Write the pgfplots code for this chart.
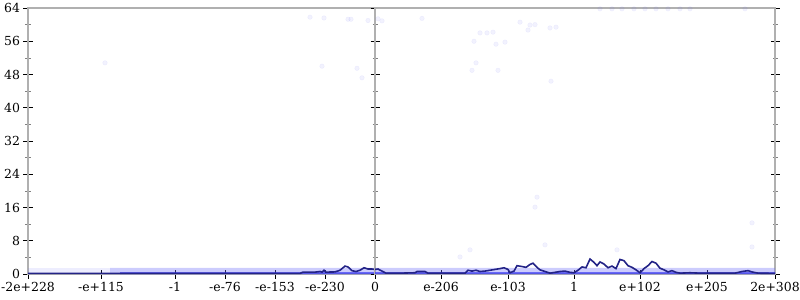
\documentclass[border=0pt]{standalone}
\usepackage{pgfplots}
\pgfplotsset{compat=1.18}
\usepackage{fontspec}
\setmainfont{DejaVu Serif}
\definecolor{axgray}{RGB}{176,176,176}
\definecolor{navy}{RGB}{35,35,135}
\definecolor{band}{RGB}{110,110,250}
\definecolor{strip}{RGB}{50,50,245}
\definecolor{dotc}{RGB}{110,110,240}
\pgfplotsset{
 base/.style={
  scale only axis, height=266bp, ymin=0, ymax=64,
  ytick={0,8,...,64}, minor ytick={4,12,...,60},
  axis line style={axgray, line width=1.4bp},
  tick align=center, major tick length=9bp, minor tick length=5bp,
  every tick/.style={black, line width=0.8bp},
  every minor tick/.style={gray, line width=0.6bp},
  tick label style={font=\fontsize{12.5}{14}\selectfont},
  /pgf/number format/assume math mode=true,
  xtick pos=bottom, xtick align=center,
  clip=true,
 },
 dots/.style={only marks, mark=*, mark size=2.3bp, color=dotc, mark options={draw=dotc, fill=dotc, opacity=0.09}},
 navyline/.style={navy, line width=1.6bp, mark=none},
}
\begin{document}
\begin{tikzpicture}
\begin{axis}[base, width=347bp, at={(0,0)}, anchor=south west,
  xmin=28, xmax=375, ytick pos=left,
  xtick={28,101,175,225,275,325},
  xticklabels={-2e+228,-e+115,-1,-e-76,-e-153,-e-230}]
\addplot[draw=none, fill=band, fill opacity=0.12] coordinates {(28,0)(28,1.4)(110,1.4)(110,0)} \closedcycle;
\addplot[draw=none, fill=band, fill opacity=0.35] coordinates {(110,0)(110,1.45)(375,1.45)(375,0)} \closedcycle;
\addplot[draw=none, fill=strip, fill opacity=0.65] coordinates {(120,0)(120,0.45)(375,0.45)(375,0)} \closedcycle;
\addplot[dots] coordinates {(310,61.8)(324,61.6)(348,61.3)(351,61.3)(368,61.0)(322,50.0)(357,49.5)(362,47.2)(105,50.8)};
\addplot[navyline] coordinates {(28,0.15)(300,0.15)(303,0.45)(315,0.45)(320,0.6)(322,0.45)(324,0.9)(326,0.45)(335,0.5)(340,0.9)(345,1.9)(348,1.7)(352,0.8)(356,0.6)(360,0.9)(364,1.5)(368,1.2)(372,1.2)(375,1.1)};
\end{axis}
\begin{axis}[base, width=400bp, at={(347bp,0)}, anchor=south west,
  xmin=375, xmax=775, ytick pos=both, yticklabels={},
  xtick={375,441,508,574,640,707,775},
  xticklabels={0,e-206,e-103,1,e+102,e+205,2e+308}]
\addplot[draw=none, fill=band, fill opacity=0.35] coordinates {(375,0)(375,1.45)(775,1.45)(775,0)} \closedcycle;
\addplot[draw=none, fill=strip, fill opacity=0.65] coordinates {(375,0)(375,0.45)(775,0.45)(775,0)} \closedcycle;
\addplot[dots] coordinates {(378,61.4)(382,60.9)(422,61.5)(487,58.0)(493,58.2)(474,56.0)(480,58.0)(505,55.8)(498,49.0)(472,49.0)(476,50.8)(520,60.6)(530,59.9)(528,58.7)(535,60.0)(550,59.2)(556,59.4)(551,46.4)(496,55.3)(545,7.0)(470,5.8)(460,4.1)(535,16.1)(537,18.5)(752,12.3)(752,6.5)(617,5.8)(600,63.8)(612,63.8)(622,63.8)(634,63.8)(645,63.8)(656,63.8)(668,63.8)(680,63.8)(690,63.8)(745,63.8)};
\addplot[navyline] coordinates {(375,1.1)(378,1.2)(382,0.7)(386,0.2)(400,0.2)(415,0.3)(417,0.6)(425,0.6)(428,0.2)(465,0.2)(468,0.9)(472,0.7)(476,0.9)(480,0.6)(485,0.7)(490,0.9)(495,1.1)(500,1.3)(504,1.5)(508,1.1)(510,0.3)(514,0.7)(517,2.0)(522,1.8)(526,1.6)(530,2.3)(533,2.6)(537,1.6)(540,1.0)(545,0.6)(550,0.2)(555,0.4)(560,0.6)(565,0.7)(570,0.4)(574,0.3)(578,0.9)(582,1.7)(586,1.5)(590,3.6)(594,2.8)(597,2.0)(600,2.9)(604,2.4)(608,1.5)(612,1.9)(616,1.3)(620,3.5)(624,3.2)(628,2.0)(632,1.6)(636,1.0)(640,0.3)(644,1.3)(648,2.0)(652,3.0)(656,2.6)(660,1.4)(664,1.0)(668,0.5)(672,0.8)(676,0.4)(680,0.2)(690,0.3)(700,0.2)(735,0.2)(742,0.6)(748,0.8)(752,0.5)(758,0.2)(775,0.15)};
\end{axis}
\pgfresetboundingbox
\path (-28bp,-26bp) rectangle (772bp,274bp);
\end{tikzpicture}
\end{document}
